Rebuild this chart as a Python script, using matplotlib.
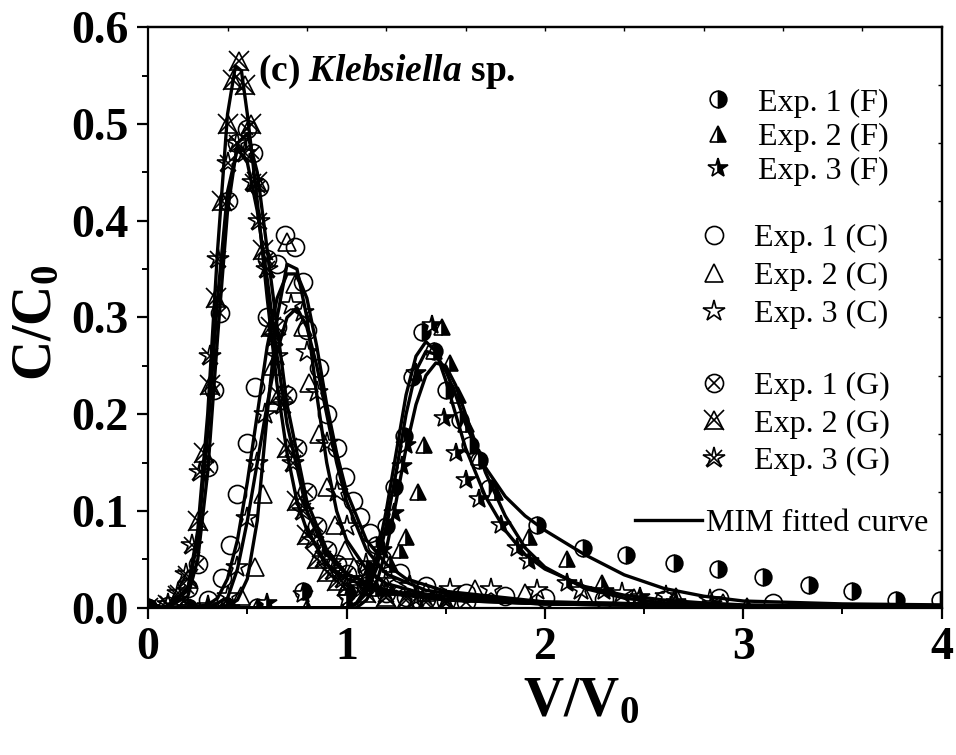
import matplotlib
matplotlib.use("Agg")
import matplotlib.pyplot as plt
from matplotlib.ticker import MultipleLocator, FixedLocator

plt.rcParams['font.family'] = ['Liberation Serif', 'DejaVu Serif']
plt.rcParams['mathtext.fontset'] = 'custom'
plt.rcParams['mathtext.rm'] = 'Liberation Serif:bold'
plt.rcParams['mathtext.bf'] = 'Liberation Serif:bold'
plt.rcParams['mathtext.it'] = 'Liberation Serif:bold:italic'

# ---------------- data: experimental points ----------------
# F series (peak ~1.45)
f1_x = [0, 0.2, 0.39, 0.55, 0.78, 1.0, 1.1, 1.15, 1.2, 1.24, 1.29, 1.33, 1.38, 1.44, 1.5, 1.57, 1.62, 1.67, 1.72, 1.96, 2.19, 2.41, 2.65, 2.87, 3.1, 3.33, 3.55, 3.77, 3.99]
f1_y = [0, 0.0, 0.002, 0.001, 0.017, 0.015, 0.04, 0.065, 0.085, 0.125, 0.177, 0.239, 0.285, 0.265, 0.225, 0.194, 0.168, 0.153, 0.124, 0.086, 0.062, 0.055, 0.046, 0.04, 0.032, 0.024, 0.017, 0.008, 0.008]
f2_x = [0, 0.3, 0.55, 0.8, 1.0, 1.15, 1.22, 1.27, 1.3, 1.36, 1.39, 1.44, 1.48, 1.52, 1.56, 1.6, 1.67, 1.75, 1.92, 2.11, 2.29, 2.48, 2.66, 2.84, 3.02]
f2_y = [0, 0.0, 0.0, 0.0, 0.002, 0.02, 0.045, 0.06, 0.073, 0.12, 0.168, 0.265, 0.29, 0.253, 0.22, 0.19, 0.156, 0.12, 0.073, 0.05, 0.026, 0.011, 0.002, 0.003, 0.002]
f3_x = [0, 0.2, 0.41, 0.6, 0.78, 1.0, 1.1, 1.18, 1.24, 1.28, 1.3, 1.35, 1.43, 1.49, 1.55, 1.6, 1.67, 1.78, 1.86, 1.92, 2.11, 2.3, 2.48, 2.66, 2.84]
f3_y = [0, 0.0, 0.0, 0.005, 0.014, 0.01, 0.03, 0.06, 0.098, 0.146, 0.168, 0.243, 0.292, 0.196, 0.16, 0.132, 0.112, 0.086, 0.062, 0.048, 0.026, 0.017, 0.011, 0.006, 0.004]

# C series (peak ~0.72)
c1_x = [0, 0.2, 0.3, 0.37, 0.41, 0.45, 0.5, 0.54, 0.6, 0.65, 0.69, 0.74, 0.78, 0.8, 0.86, 0.9, 0.95, 0.99, 1.03, 1.07, 1.12, 1.18, 1.27, 1.4, 1.6, 1.8, 2.0, 2.3, 2.6, 2.88, 3.15]
c1_y = [0, 0.0, 0.008, 0.031, 0.065, 0.118, 0.17, 0.228, 0.3, 0.355, 0.385, 0.373, 0.337, 0.287, 0.248, 0.2, 0.165, 0.135, 0.11, 0.094, 0.077, 0.05, 0.036, 0.022, 0.015, 0.012, 0.01, 0.009, 0.008, 0.01, 0.005]
c2_x = [0, 0.3, 0.4, 0.47, 0.54, 0.58, 0.63, 0.7, 0.74, 0.78, 0.81, 0.86, 0.9, 0.94, 0.99, 1.04, 1.1, 1.2, 1.4, 1.65, 1.9, 2.2, 2.45, 2.66, 2.9]
c2_y = [0, 0.0, 0.003, 0.012, 0.042, 0.118, 0.25, 0.378, 0.335, 0.29, 0.232, 0.18, 0.125, 0.086, 0.06, 0.042, 0.03, 0.022, 0.016, 0.019, 0.015, 0.012, 0.01, 0.011, 0.005]
c3_x = [0, 0.3, 0.4, 0.45, 0.5, 0.55, 0.59, 0.65, 0.72, 0.78, 0.8, 0.85, 0.9, 0.95, 1.0, 1.1, 1.2, 1.32, 1.52, 1.73, 1.96, 2.18, 2.39, 2.61, 2.83]
c3_y = [0, 0.002, 0.012, 0.042, 0.093, 0.15, 0.2, 0.26, 0.313, 0.306, 0.264, 0.223, 0.17, 0.12, 0.085, 0.045, 0.028, 0.022, 0.019, 0.019, 0.018, 0.018, 0.015, 0.012, 0.008]

# G series (peak ~0.46)
g1_x = [0, 0.1, 0.2, 0.25, 0.3, 0.33, 0.36, 0.4, 0.45, 0.5, 0.53, 0.56, 0.6, 0.65, 0.7, 0.75, 0.8, 0.85, 0.9, 0.95, 1.0, 1.1, 1.2, 1.3, 1.4, 1.5, 1.6]
g1_y = [0, 0.002, 0.02, 0.045, 0.145, 0.225, 0.305, 0.42, 0.48, 0.495, 0.47, 0.435, 0.36, 0.29, 0.22, 0.165, 0.12, 0.085, 0.06, 0.045, 0.035, 0.022, 0.015, 0.011, 0.009, 0.007, 0.006]
g2_x = [0, 0.1, 0.15, 0.2, 0.25, 0.28, 0.31, 0.34, 0.37, 0.4, 0.43, 0.46, 0.49, 0.52, 0.55, 0.58, 0.62, 0.66, 0.7, 0.75, 0.8, 0.85, 0.9, 0.95, 1.0, 1.1, 1.2, 1.3, 1.4, 1.5]
g2_y = [0, 0.003, 0.012, 0.03, 0.09, 0.16, 0.23, 0.32, 0.42, 0.5, 0.545, 0.565, 0.54, 0.5, 0.44, 0.37, 0.29, 0.22, 0.165, 0.11, 0.075, 0.05, 0.037, 0.028, 0.022, 0.015, 0.011, 0.008, 0.006, 0.005]
g3_x = [0, 0.1, 0.15, 0.19, 0.22, 0.26, 0.31, 0.35, 0.4, 0.45, 0.49, 0.53, 0.56, 0.6, 0.64, 0.68, 0.73, 0.78, 0.83, 0.88, 0.93, 0.98, 1.08, 1.2, 1.35, 1.5]
g3_y = [0, 0.004, 0.015, 0.035, 0.065, 0.14, 0.26, 0.36, 0.46, 0.48, 0.47, 0.44, 0.40, 0.35, 0.28, 0.21, 0.15, 0.1, 0.07, 0.05, 0.038, 0.03, 0.02, 0.014, 0.01, 0.008]

# ---------------- data: MIM fitted curves ----------------
fit_g2_x = [0, 0.1, 0.2, 0.25, 0.3, 0.35, 0.4, 0.44, 0.47, 0.5, 0.55, 0.6, 0.65, 0.7, 0.75, 0.8, 0.9, 1.0, 1.2, 1.5, 2.0, 3.0, 4.0]
fit_g2_y = [0, 0.001, 0.02, 0.08, 0.2, 0.37, 0.51, 0.56, 0.555, 0.51, 0.42, 0.32, 0.23, 0.16, 0.11, 0.08, 0.045, 0.03, 0.015, 0.008, 0.004, 0.001, 0.0]
fit_g1_x = [0, 0.1, 0.2, 0.25, 0.3, 0.35, 0.4, 0.45, 0.5, 0.55, 0.6, 0.65, 0.7, 0.8, 0.9, 1.0, 1.2, 1.5, 2.0, 3.0, 4.0]
fit_g1_y = [0, 0.001, 0.012, 0.05, 0.14, 0.28, 0.41, 0.48, 0.49, 0.45, 0.37, 0.29, 0.21, 0.11, 0.06, 0.035, 0.017, 0.008, 0.004, 0.001, 0.0]
fit_g3_x = [0, 0.1, 0.2, 0.25, 0.3, 0.35, 0.4, 0.45, 0.5, 0.55, 0.6, 0.65, 0.7, 0.8, 0.9, 1.0, 1.2, 1.5, 2.0, 3.0, 4.0]
fit_g3_y = [0, 0.001, 0.018, 0.07, 0.18, 0.32, 0.43, 0.475, 0.46, 0.41, 0.34, 0.26, 0.19, 0.1, 0.055, 0.035, 0.018, 0.009, 0.004, 0.001, 0.0]
fit_c1_x = [0, 0.2, 0.3, 0.35, 0.4, 0.45, 0.5, 0.55, 0.6, 0.65, 0.7, 0.75, 0.8, 0.85, 0.9, 0.95, 1.0, 1.1, 1.2, 1.3, 1.5, 2.0, 3.0, 4.0]
fit_c1_y = [0, 0.0, 0.003, 0.01, 0.03, 0.07, 0.13, 0.2, 0.27, 0.32, 0.345, 0.345, 0.32, 0.27, 0.21, 0.16, 0.12, 0.07, 0.045, 0.03, 0.017, 0.006, 0.002, 0.001]
fit_c2_x = [0, 0.3, 0.4, 0.45, 0.5, 0.55, 0.6, 0.65, 0.7, 0.75, 0.8, 0.85, 0.9, 0.95, 1.0, 1.1, 1.2, 1.4, 1.7, 2.0, 3.0, 4.0]
fit_c2_y = [0, 0.0, 0.002, 0.008, 0.03, 0.09, 0.2, 0.3, 0.355, 0.35, 0.3, 0.22, 0.15, 0.1, 0.07, 0.04, 0.025, 0.014, 0.008, 0.005, 0.002, 0.001]
fit_c3_x = [0, 0.3, 0.4, 0.45, 0.5, 0.55, 0.6, 0.65, 0.7, 0.75, 0.8, 0.85, 0.9, 0.95, 1.0, 1.1, 1.2, 1.4, 1.7, 2.0, 3.0, 4.0]
fit_c3_y = [0, 0.0, 0.01, 0.04, 0.09, 0.15, 0.21, 0.265, 0.3, 0.31, 0.29, 0.25, 0.2, 0.15, 0.11, 0.06, 0.035, 0.018, 0.01, 0.006, 0.002, 0.001]
fit_f3_x = [0, 1.0, 1.05, 1.1, 1.15, 1.2, 1.25, 1.3, 1.35, 1.4, 1.45, 1.5, 1.55, 1.6, 1.7, 1.8, 1.9, 2.0, 2.2, 2.4, 2.6, 2.8, 3.0, 3.5, 4.0]
fit_f3_y = [0, 0.0, 0.005, 0.02, 0.05, 0.1, 0.16, 0.22, 0.26, 0.275, 0.265, 0.235, 0.2, 0.165, 0.115, 0.08, 0.055, 0.04, 0.022, 0.013, 0.008, 0.005, 0.003, 0.002, 0.001]
fit_f1_x = [0, 1.0, 1.05, 1.1, 1.15, 1.2, 1.25, 1.3, 1.35, 1.4, 1.45, 1.5, 1.55, 1.6, 1.7, 1.8, 1.9, 2.0, 2.2, 2.4, 2.6, 2.8, 3.0, 3.5, 4.0]
fit_f1_y = [0, 0.0, 0.004, 0.015, 0.04, 0.085, 0.14, 0.2, 0.245, 0.265, 0.262, 0.245, 0.22, 0.19, 0.145, 0.115, 0.095, 0.08, 0.055, 0.034, 0.02, 0.012, 0.007, 0.004, 0.003]
fit_f2_x = [0, 1.05, 1.1, 1.15, 1.2, 1.25, 1.3, 1.35, 1.4, 1.45, 1.5, 1.55, 1.6, 1.7, 1.8, 1.9, 2.0, 2.2, 2.4, 2.6, 2.8, 3.0, 3.5, 4.0]
fit_f2_y = [0, 0.0, 0.008, 0.025, 0.06, 0.11, 0.165, 0.21, 0.24, 0.253, 0.25, 0.23, 0.2, 0.14, 0.095, 0.062, 0.042, 0.02, 0.01, 0.005, 0.003, 0.002, 0.001, 0.0]

x_ticks = [0, 1, 2, 3, 4]
y_ticks = [0.0, 0.1, 0.2, 0.3, 0.4, 0.5, 0.6]

# ---------------- figure ----------------
fig = plt.figure(figsize=(9.56, 7.55), dpi=100)
ax = fig.add_axes([0.155, 0.195, 0.830, 0.769])

K = 'black'
ms = 12
mew = 1.2

fits = [(fit_g1_x, fit_g1_y), (fit_g2_x, fit_g2_y), (fit_g3_x, fit_g3_y),
        (fit_c1_x, fit_c1_y), (fit_c2_x, fit_c2_y), (fit_c3_x, fit_c3_y),
        (fit_f1_x, fit_f1_y), (fit_f2_x, fit_f2_y), (fit_f3_x, fit_f3_y)]
fit_handle = None
for fx, fy in fits:
    h, = ax.plot(fx, fy, '-', color=K, lw=2.4, zorder=3)
    fit_handle = h

def half(x, y, marker, size):
    h, = ax.plot(x, y, ls='none', marker=marker, ms=size, mec=K, mew=mew,
                 mfc=K, mfcalt='white', fillstyle='right', zorder=2)
    return h

def openm(x, y, marker, size):
    h, = ax.plot(x, y, ls='none', marker=marker, ms=size, mec=K, mew=mew,
                 mfc='none', zorder=2)
    return h

hF1 = half(f1_x, f1_y, 'o', ms)
hF2 = half(f2_x, f2_y, '^', ms)
hF3 = half(f3_x, f3_y, '*', ms + 3)

hC1 = openm(c1_x, c1_y, 'o', ms + 1)
hC2 = openm(c2_x, c2_y, '^', ms + 1)
hC3 = openm(c3_x, c3_y, '*', ms + 4)

hG1a = openm(g1_x, g1_y, 'o', ms + 1)
hG1b = openm(g1_x, g1_y, 'x', ms * 0.75)
hG2a = openm(g2_x, g2_y, '^', ms + 1)
hG2b = openm(g2_x, g2_y, 'x', ms + 2)
hG3a = openm(g3_x, g3_y, '*', ms + 4)
hG3b = openm(g3_x, g3_y, 'x', ms)

# axes limits & ticks
ax.set_xlim(0, 4)
ax.set_ylim(0, 0.6)
ax.xaxis.set_major_locator(FixedLocator(x_ticks))
ax.yaxis.set_major_locator(FixedLocator(y_ticks))
ax.xaxis.set_minor_locator(MultipleLocator(0.5))
ax.yaxis.set_minor_locator(MultipleLocator(0.05))
ax.set_xticklabels([f'{v:d}' for v in x_ticks])
ax.set_yticklabels([f'{v:.1f}' for v in y_ticks])
ax.tick_params(which='major', direction='out', length=8, width=1.6,
               labelsize=33, pad=6)
ax.tick_params(which='minor', direction='out', length=4.5, width=1.4)
for lab in ax.get_xticklabels() + ax.get_yticklabels():
    lab.set_fontweight('bold')
for s in ax.spines.values():
    s.set_linewidth(1.6)

# opposite axes with small inward ticks
secx = ax.secondary_xaxis('top')
secx.set_xticks([0.4, 0.8, 1.2, 1.6, 2.0, 2.4, 2.8, 3.2, 3.6])
secx.tick_params(direction='in', length=3, width=1.0, labeltop=False)
secx.spines['top'].set_linewidth(1.6)
secy = ax.secondary_yaxis('right')
secy.set_yticks([0.06, 0.12, 0.18, 0.24, 0.30, 0.36, 0.42, 0.48, 0.54])
secy.tick_params(direction='in', length=3, width=1.0, labelright=False)
secy.spines['right'].set_linewidth(1.6)

ax.set_xlabel('V/V$_0$', fontsize=40, fontweight='bold')
ax.xaxis.set_label_coords(0.545, -0.118)
ax.set_ylabel('C/C$_0$', fontsize=40, fontweight='bold')
ax.yaxis.set_label_coords(-0.107, 0.49)

ax.text(0.139, 0.923, '(c) $Klebsiella$ sp.', transform=ax.transAxes,
        fontsize=27, fontweight='bold', ha='left', va='center')

# legends
def lkw(ls):
    return dict(frameon=False, fontsize=23, borderpad=0, borderaxespad=0,
                handlelength=1.0, handletextpad=0.75, labelspacing=ls,
                markerscale=1.0, loc='upper left')

legF = ax.legend([hF1, hF2, hF3], ['Exp. 1 (F)', 'Exp. 2 (F)', 'Exp. 3 (F)'],
                 bbox_to_anchor=(0.698, 0.895), **lkw(0.16))
ax.add_artist(legF)
legC = ax.legend([hC1, hC2, hC3], ['Exp. 1 (C)', 'Exp. 2 (C)', 'Exp. 3 (C)'],
                 bbox_to_anchor=(0.693, 0.662), **lkw(0.28))
ax.add_artist(legC)
legG = ax.legend([(hG1a, hG1b), (hG2a, hG2b), (hG3a, hG3b)],
                 ['Exp. 1 (G)', 'Exp. 2 (G)', 'Exp. 3 (G)'],
                 bbox_to_anchor=(0.693, 0.407), **lkw(0.26))
ax.add_artist(legG)
kw = lkw(0.2)
kw['handlelength'] = 2.1
kw['handletextpad'] = 0.15
legM = ax.legend([fit_handle], ['MIM fitted curve'],
                 bbox_to_anchor=(0.613, 0.170), **kw)

fig.savefig('out.png', dpi=100)
